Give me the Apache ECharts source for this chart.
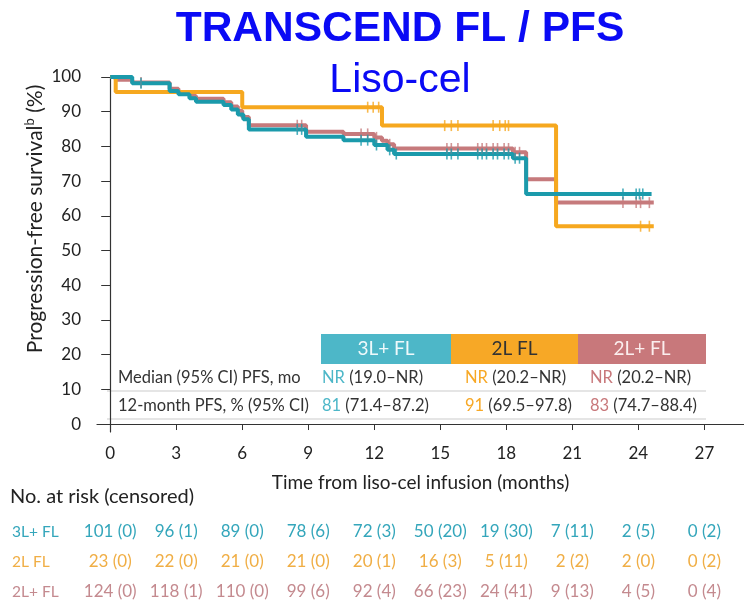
<!DOCTYPE html>
<html>
<head>
<meta charset="utf-8">
<script src="https://cdn.jsdelivr.net/npm/echarts@6/dist/echarts.min.js"></script>
<style>
  html, body { margin: 0; padding: 0; background: #fff; }
  #chart { width: 744px; height: 605px; }
</style>
</head>
<body>
<div id="chart"></div>
<script>
const xTicks = [0, 3, 6, 9, 12, 15, 18, 21, 24, 27];
const yTicks = [0, 10, 20, 30, 40, 50, 60, 70, 80, 90, 100];

// KM steps: [month, PFS %]
const pfs3L = [[0, 100], [1.0, 98.2], [2.7, 96.0], [3.1, 95.0], [3.6, 93.9], [3.9, 92.9],
  [5.15, 91.9], [5.5, 90.6], [5.8, 89.2], [6.05, 87.8], [6.3, 84.9], [8.9, 82.8],
  [10.6, 81.8], [12.0, 80.4], [12.6, 79.0], [12.9, 77.8], [18.3, 76.6], [18.9, 66.3], [24.6, 66.3]];
const pfs2L = [[0, 100], [0.25, 95.7], [6.0, 91.3], [12.35, 86.0], [20.26, 57.0], [24.7, 57.0]];
const pfs2Lplus = [[0, 100], [0.25, 99.2], [1.0, 98.4], [2.7, 96.6], [3.1, 95.6], [3.6, 94.5],
  [3.9, 93.7], [5.15, 92.7], [5.5, 91.5], [5.8, 90.3], [6.0, 88.5], [6.3, 86.1], [8.9, 84.2],
  [10.6, 83.6], [12.0, 82.6], [12.35, 81.6], [12.6, 80.6], [12.9, 79.4], [18.3, 78.3],
  [18.9, 70.5], [20.26, 63.8], [24.7, 63.8]];

// censoring times (months)
const cens3L = [1.4, 8.5, 8.7, 11.4, 11.7, 12.1, 12.7, 13.0, 15.3, 15.5, 15.8, 16.7, 16.9,
  17.1, 17.4, 17.6, 17.9, 18.1, 18.4, 18.6, 23.3, 23.9, 24.05, 24.2];
const cens2L = [11.7, 11.95, 12.2, 15.2, 15.5, 15.8, 17.4, 17.7, 17.95, 18.1, 24.1, 24.5];
const cens2Lplus = [1.4, 8.5, 8.7, 11.4, 11.7, 12.1, 12.7, 15.3, 15.5, 15.8, 16.7, 16.9,
  17.1, 17.4, 17.6, 17.9, 18.1, 18.4, 18.6, 23.3, 23.9, 24.1, 24.5];

const risk3L = ['101 (0)', '96 (1)', '89 (0)', '78 (6)', '72 (3)', '50 (20)', '19 (30)', '7 (11)', '2 (5)', '0 (2)'];
const risk2L = ['23 (0)', '22 (0)', '21 (0)', '21 (0)', '20 (1)', '16 (3)', '5 (11)', '2 (2)', '2 (0)', '0 (2)'];
const risk2Lplus = ['124 (0)', '118 (1)', '110 (0)', '99 (6)', '92 (4)', '66 (23)', '24 (41)', '9 (13)', '4 (5)', '0 (4)'];

const groups = ['3L+ FL', '2L FL', '2L+ FL'];
const medianText = ['(19.0–NR)', '(20.2–NR)', '(20.2–NR)'];
const medianVal = ['NR', 'NR', 'NR'];
const m12Val = ['81', '91', '83'];
const m12Text = ['(71.4–87.2)', '(69.5–97.8)', '(74.7–88.4)'];

const lineColors = ['#1b9aab', '#f6a81f', '#c67a7c'];
const boxColors = ['#4db7c8', '#f7a826', '#c8787b'];
const boxText = ['#eef9fb', '#333', '#fbeeee'];
const riskColors = ['#34a6bb', '#f0ae45', '#c48a8f'];
const FONT = 'Lato';

function survAt(curve, t) {
  let v = curve[0][1];
  for (const [x, y] of curve) if (x <= t) v = y;
  return v;
}

const chart = echarts.init(document.getElementById('chart'));

const X_MIN = -0.6, X_MAX = 28.8;
const riskRowsY = [532, 562, 592];
const riskData = [risk3L, risk2L, risk2Lplus];

const grids = [{ left: 97, right: 0, top: 77, bottom: 173, outerBoundsMode: 'none' }];
const xAxes = [{
  type: 'value', gridIndex: 0, min: X_MIN, max: X_MAX,
  axisLine: { lineStyle: { color: '#333', width: 1.2 } },
  axisTick: { customValues: xTicks, length: 6, lineStyle: { color: '#333' } },
  axisLabel: { customValues: xTicks, margin: 13, fontSize: 17, color: '#222', fontFamily: FONT },
  splitLine: { show: false },
  name: 'Time from liso-cel infusion (months)', nameLocation: 'middle', nameGap: 41,
  nameTextStyle: { fontSize: 19, color: '#222', fontFamily: FONT }
}];
const yAxes = [{
  type: 'value', gridIndex: 0, min: -2.3, max: 100,
  axisLine: { show: true, lineStyle: { color: '#333', width: 1.2 } },
  axisTick: { show: true, customValues: yTicks, length: 9, lineStyle: { color: '#333' } },
  axisLabel: { customValues: yTicks, margin: 16, fontSize: 17, color: '#222', fontFamily: FONT },
  splitLine: { show: false }
}];

riskRowsY.forEach((y, i) => {
  grids.push({ left: 97, right: 0, top: y - 1, height: 1, outerBoundsMode: 'none' });
  xAxes.push({
    type: 'value', gridIndex: i + 1, min: X_MIN, max: X_MAX,
    axisLine: { show: false }, axisTick: { show: false }, splitLine: { show: false },
    axisLabel: {
      customValues: xTicks, margin: 0, verticalAlign: 'middle',
      fontSize: 17, color: riskColors[i], fontFamily: FONT,
      formatter: v => riskData[i][xTicks.indexOf(v)]
    }
  });
  yAxes.push({ type: 'value', gridIndex: i + 1, show: false });
});

const curves = [pfs3L, pfs2L, pfs2Lplus];
const cens = [cens3L, cens2L, cens2Lplus];
const drawOrder = [2, 1, 0];
const series = [];
drawOrder.forEach(i => {
  series.push({
    name: groups[i], type: 'line', step: 'end', data: curves[i],
    showSymbol: false, z: 2 + (2 - i),
    lineStyle: { color: lineColors[i], width: 4 }
  });
});
drawOrder.forEach(i => {
  series.push({
    type: 'scatter', data: cens[i].map(t => [t, survAt(curves[i], t)]),
    symbol: 'rect', symbolSize: [1.6, 11], z: 6,
    itemStyle: { color: lineColors[i] }
  });
});

// inset summary table
const colX = [321, 451, 578, 706];
const graphics = [];
for (let i = 0; i < 3; i++) {
  graphics.push({
    type: 'rect', shape: { x: colX[i], y: 334, width: colX[i + 1] - colX[i], height: 30 },
    style: { fill: boxColors[i] }
  });
  graphics.push({
    type: 'text', x: (colX[i] + colX[i + 1]) / 2, y: 349,
    style: { text: groups[i], fill: boxText[i], font: '19px ' + FONT, align: 'center', verticalAlign: 'middle' }
  });
}
const valX = [322, 465, 590];
const cellFont = '16.5px ' + FONT;
for (let i = 0; i < 3; i++) {
  graphics.push({
    type: 'text', x: valX[i], y: 378,
    style: {
      text: '{c|' + medianVal[i] + '} ' + medianText[i], fill: '#333', font: cellFont,
      align: 'left', verticalAlign: 'middle',
      rich: { c: { fill: boxColors[i], font: cellFont } }
    }
  });
  graphics.push({
    type: 'text', x: valX[i], y: 406,
    style: {
      text: '{c|' + m12Val[i] + '} ' + m12Text[i], fill: '#333', font: cellFont,
      align: 'left', verticalAlign: 'middle',
      rich: { c: { fill: boxColors[i], font: cellFont } }
    }
  });
}
graphics.push(
  { type: 'text', x: 118, y: 378, style: { text: 'Median (95% CI) PFS, mo', fill: '#333', font: cellFont, verticalAlign: 'middle' } },
  { type: 'text', x: 118, y: 406, style: { text: '12-month PFS, % (95% CI)', fill: '#333', font: cellFont, verticalAlign: 'middle' } },
  { type: 'line', shape: { x1: 107, y1: 391, x2: 706, y2: 391 }, style: { stroke: '#dcdcdc', lineWidth: 1.5 } },
  { type: 'line', shape: { x1: 107, y1: 419, x2: 706, y2: 419 }, style: { stroke: '#dcdcdc', lineWidth: 1.5 } },
  {
    type: 'text', x: 35, y: 219, rotation: Math.PI / 2,
    style: {
      text: 'Progression-free survival{s|b} (%)', fill: '#222', font: '21px ' + FONT,
      align: 'center', verticalAlign: 'middle',
      rich: { s: { font: '13px ' + FONT, fill: '#222', verticalAlign: 'top', padding: [0, 0, 10, 0] } }
    }
  },
  { type: 'text', x: 10, y: 497, style: { text: 'No. at risk (censored)', fill: '#222', font: '20px ' + FONT, verticalAlign: 'middle' } }
);
groups.forEach((g, i) => {
  graphics.push({
    type: 'text', x: 12, y: riskRowsY[i],
    style: { text: g, fill: riskColors[i], font: '15.5px ' + FONT, verticalAlign: 'middle' }
  });
});

chart.setOption({
  backgroundColor: '#fff',
  animation: false,
  title: [
    {
      text: 'TRANSCEND FL / PFS', left: 395, top: 3, textAlign: 'center',
      textStyle: { fontSize: 42.5, fontWeight: 'bold', color: '#0a0af5', fontFamily: 'Liberation Sans' }
    },
    {
      text: 'Liso-cel', left: 395, top: 55, textAlign: 'center',
      textStyle: { fontSize: 41, fontWeight: 'normal', color: '#0a0af5', fontFamily: 'Liberation Sans' }
    }
  ],
  grid: grids,
  xAxis: xAxes,
  yAxis: yAxes,
  series: series,
  graphic: graphics
});
</script>
</body>
</html>
